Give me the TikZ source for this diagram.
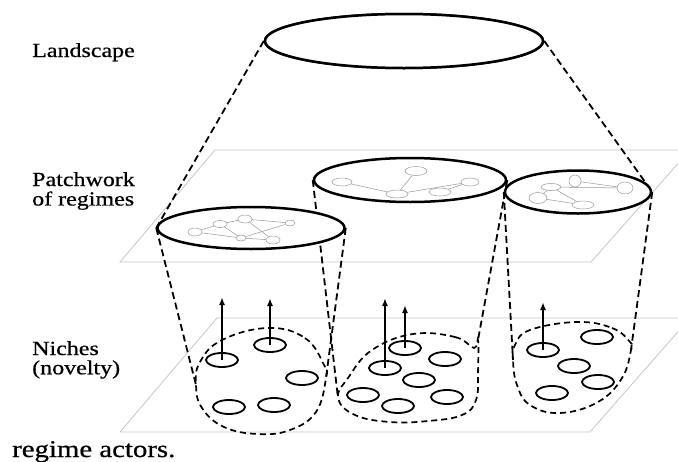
\documentclass[tikz,border=0pt]{standalone}
\usepackage{fontspec}
\setmainfont{Liberation Serif}
\newfontfamily\lblfont[FakeBold=0.6]{Liberation Serif}
\usetikzlibrary{arrows.meta,shapes.geometric}
\newcommand{\lbltxt}[2]{\scalebox{1.2}[1]{\lblfont\fontsize{#1}{18}\selectfont\begin{tabular}[t]{@{}l@{}}#2\end{tabular}}}
\begin{document}
\begin{tikzpicture}[x=1pt,y=-1pt,
  plane/.style={draw=black!22, line width=0.8},
  bigell/.style={draw=black, line width=2.5, fill=white, ellipse, inner sep=0pt},
  cyl/.style={draw=black, line width=1.8, dash pattern=on 7pt off 4pt},
  blob/.style={draw=black, line width=1.7, dash pattern=on 6pt off 4pt},
  nell/.style={draw=black, line width=1.8, ellipse, inner sep=0pt, minimum width=32pt, minimum height=14pt},
  netn/.style={draw=black!40, line width=0.5, ellipse, inner sep=0pt, fill=white},
  nete/.style={draw=black!40, line width=0.5},
  arr/.style={-{Latex[length=8pt,width=6pt]}, line width=1.6},
  lbl/.style={anchor=base west, inner sep=0pt},
]
\useasboundingbox (0,0) rectangle (678,461);
\clip (0,0) rectangle (678,461);

% planes
\coordinate (p1) at (215,150); \coordinate (p2) at (690,150);
\coordinate (p3) at (591,262); \coordinate (p4) at (120,262);
\draw[plane] (p1) -- (p2) -- (p3) -- (p4) -- cycle;
\coordinate (q1) at (217,318); \coordinate (q2) at (690,318);
\coordinate (q3) at (590,432); \coordinate (q4) at (120,432);
\draw[plane] (q1) -- (q2) -- (q3) -- (q4) -- cycle;

% ellipse anchors (drawn later)
\path (404,41) node[bigell, minimum width=278pt, minimum height=54pt] (land) {};
\path (251,228) node[bigell, minimum width=187pt, minimum height=42pt, draw=none, fill=none] (pl) {};
\path (410,180) node[bigell, minimum width=192pt, minimum height=44pt, draw=none, fill=none] (pm) {};
\path (578,192) node[bigell, minimum width=146pt, minimum height=43pt, draw=none, fill=none] (pr) {};

% blob tangent points
\coordinate (bl1) at (196,385); \coordinate (bl2) at (326,378);
\coordinate (bm1) at (338,398); \coordinate (bm2) at (478,340);
\coordinate (br1) at (513,360); \coordinate (br2) at (631,350);

% landscape cone
\draw[cyl] (land.west) -- (pl.west);
\draw[cyl] (land.east) -- (pr.east);
% cylinders
\draw[cyl] (pm.west) -- (bm1);
\draw[cyl] (pm.east) -- (bm2);
\draw[cyl] (pr.west) -- (br1);
\draw[cyl] (pr.east) -- (br2);
\draw[cyl] (pl.west) -- (bl1);
\draw[cyl] (pl.east) -- (bl2);

% patchwork ellipses
\node[bigell, minimum width=192pt, minimum height=44pt] at (pm) {};
\node[bigell, minimum width=146pt, minimum height=43pt] at (pr) {};
\node[bigell, minimum width=187pt, minimum height=42pt] at (pl) {};

% networks: left
\node[netn, minimum width=14pt, minimum height=8pt] (a) at (195,232) {};
\node[netn, minimum width=14pt, minimum height=7pt] (b) at (220,224) {};
\node[netn, minimum width=14pt, minimum height=8pt] (c) at (245,219) {};
\node[netn, minimum width=10pt, minimum height=6pt] (d) at (241,238) {};
\node[netn, minimum width=14pt, minimum height=8pt] (e) at (273,240) {};
\node[netn, minimum width=10pt, minimum height=6pt] (f) at (290,223) {};
\draw[nete] (a) -- (b); \draw[nete] (b) -- (c); \draw[nete] (a) -- (d);
\draw[nete] (b) -- (d); \draw[nete] (c) -- (e); \draw[nete] (c) -- (f);
\draw[nete] (d) -- (e); \draw[nete] (d) -- (f);
% middle
\node[netn, minimum width=20pt, minimum height=8pt] (mp) at (342,182) {};
\node[netn, minimum width=22pt, minimum height=9pt] (mq) at (416,171) {};
\node[netn, minimum width=18pt, minimum height=8pt] (mr) at (470,182) {};
\node[netn, minimum width=22pt, minimum height=8pt] (ms) at (397,194) {};
\node[netn, minimum width=22pt, minimum height=8pt] (mt) at (440,192) {};
\draw[nete] (mp) -- (ms); \draw[nete] (ms) -- (mq); \draw[nete] (ms) -- (mr);
\draw[nete] (mt) -- (mr);
% right
\node[netn, minimum width=12pt, minimum height=12pt] (ru) at (575,181) {};
\node[netn, minimum width=20pt, minimum height=7pt] (rv) at (551,187) {};
\node[netn, minimum width=16pt, minimum height=12pt] (rw) at (625,188) {};
\node[netn, minimum width=18pt, minimum height=11pt] (rx) at (538,198) {};
\node[netn, minimum width=22pt, minimum height=8pt] (ry) at (583,205) {};
\draw[nete] (rv) -- (rw); \draw[nete] (rv) -- (ry); \draw[nete] (rx) -- (ry);
\draw[nete] (ru) -- (rw); \draw[nete] (rv) -- (rx);

% landscape ellipse
\node[bigell, minimum width=278pt, minimum height=54pt] at (land) {};

% niche blobs
\draw[blob] plot[smooth cycle, tension=0.7] coordinates {(268,328) (305,338) (324,365) (bl2) (316,412) (290,430) (258,434) (224,427) (202,408) (bl1) (200,362) (222,340)};
\draw[blob] plot[smooth cycle, tension=0.7] coordinates {(413,334) (455,337) (474,348) (bm2) (478,372) (476,400) (462,415) (428,421) (390,422) (355,415) (bm1) (348,378) (372,350)};
\draw[blob] plot[smooth cycle, tension=0.7] coordinates {(577,322) (612,328) (630,342) (br2) (622,378) (598,402) (560,413) (530,405) (517,385) (br1) (515,345) (530,330)};

% niche ellipses
\node[nell] (n1) at (222,360) {};
\node[nell] (n2) at (270,345) {};
\node[nell] (n3) at (302,378) {};
\node[nell] (n4) at (229,407) {};
\node[nell] (n5) at (274,405) {};
\node[nell] (m1) at (405,348) {};
\node[nell] (m2) at (385,368) {};
\node[nell] (m3) at (445,359) {};
\node[nell] (m4) at (419,380) {};
\node[nell] (m5) at (363,395) {};
\node[nell] (m6) at (398,406) {};
\node[nell] (m7) at (447,397) {};
\node[nell] (r1) at (543,350) {};
\node[nell] (r2) at (597,337) {};
\node[nell] (r3) at (574,366) {};
\node[nell] (r4) at (598,382) {};
\node[nell] (r5) at (552,393) {};

% arrows
\coordinate (t1) at (222,297); \coordinate (t2) at (270,298);
\coordinate (t3) at (385,298); \coordinate (t4) at (405,305);
\coordinate (t5) at (543,302);
\draw[arr] (n1.center) -- (t1);
\draw[arr] (n2.center) -- (t2);
\draw[arr] (m2.center) -- (t3);
\draw[arr] (m1.center) -- (t4);
\draw[arr] (r1.center) -- (t5);

% labels
\node[lbl] (lland) at (32,57) {\lbltxt{20}{Landscape}};
\node[lbl] (lpatch) at (32,186) {\lbltxt{20}{Patchwork\\of regimes}};
\node[lbl] (lnich) at (32,355) {\lbltxt{20}{Niches\\(novelty)}};
\node[lbl] (lcap) at (12,457) {\lbltxt{24}{regime actors.}};
\end{tikzpicture}
\end{document}
